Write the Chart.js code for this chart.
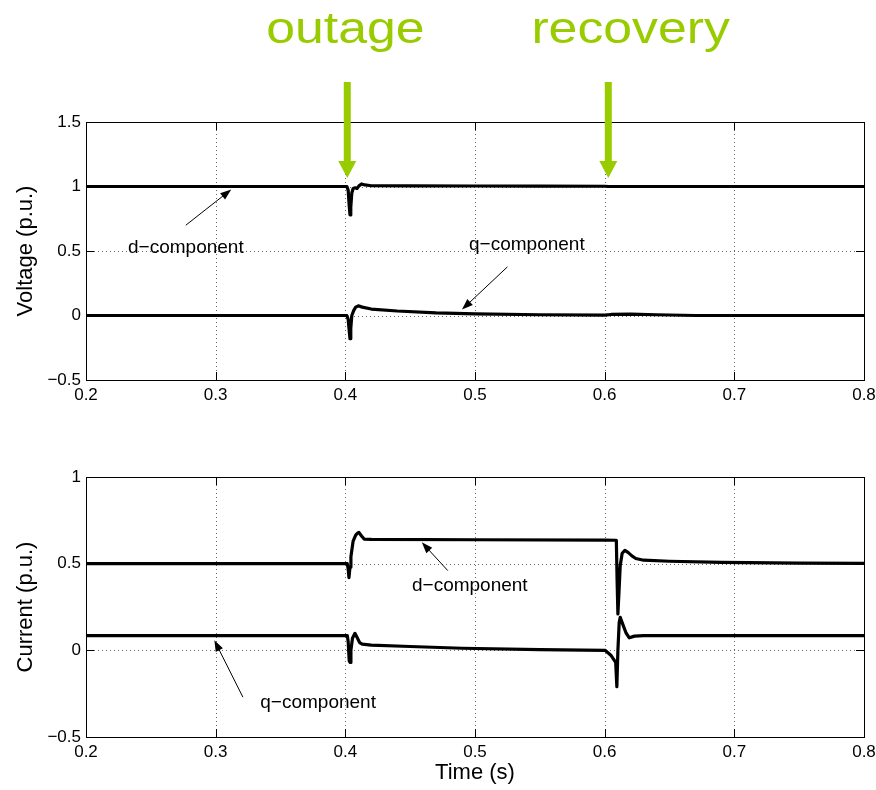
<!DOCTYPE html>
<html><head><meta charset="utf-8">
<script src="https://cdn.jsdelivr.net/npm/chart.js@4"></script>
<style>
html,body{margin:0;padding:0;background:#fff;}
#wrap{position:relative;width:876px;height:790px;overflow:hidden;}
canvas{position:absolute;left:0;}
#c1{top:0;} #c2{top:410px;}
</style></head><body>
<div id="wrap"><canvas id="c1" width="876" height="410"></canvas><canvas id="c2" width="876" height="380"></canvas></div>
<script>
// ---- data ----
const xTicks = [0.2, 0.8, 0.1];            // min, max, step
const voltTicks = [-0.5, 1.5, 0.5];
const currTicks = [-0.5, 1, 0.5];

const vdT = [0.2, 0.4012, 0.4022, 0.4030, 0.4036, 0.4042, 0.4050, 0.4060, 0.4075, 0.4090, 0.4105, 0.4125, 0.4150, 0.4200, 0.4500, 0.5000, 0.5500, 0.6000, 0.6030, 0.6100, 0.7000, 0.8];
const vdV = [1.0, 1.0, 0.97, 0.85, 0.78, 0.84, 0.95, 0.985, 0.99, 0.985, 1.005, 1.02, 1.012, 1.006, 1.005, 1.004, 1.003, 1.002, 1.0, 1.0, 1.0, 1.0];

const vqT = [0.2, 0.4012, 0.4022, 0.4030, 0.4036, 0.4042, 0.4050, 0.4065, 0.4080, 0.4100, 0.4130, 0.4200, 0.4400, 0.4700, 0.5000, 0.5500, 0.6000, 0.6050, 0.6200, 0.6400, 0.6700, 0.8];
const vqV = [0.0, 0.0, -0.03, -0.12, -0.18, -0.10, 0.0, 0.04, 0.065, 0.075, 0.065, 0.05, 0.035, 0.02, 0.012, 0.006, 0.003, 0.008, 0.01, 0.006, 0.0, 0.0];

const idT = [0.2, 0.4015, 0.4022, 0.4028, 0.4036, 0.4043, 0.4060, 0.4080, 0.4095, 0.4105, 0.4125, 0.4145, 0.4200, 0.5000, 0.6000, 0.6090, 0.6096, 0.6102, 0.6110, 0.6120, 0.6135, 0.6156, 0.6180, 0.6210, 0.6240, 0.6300, 0.6500, 0.6900, 0.7500, 0.8];
const idV = [0.5, 0.5, 0.47, 0.42, 0.48, 0.54, 0.63, 0.665, 0.677, 0.68, 0.66, 0.642, 0.64, 0.638, 0.636, 0.635, 0.40, 0.21, 0.33, 0.49, 0.56, 0.577, 0.565, 0.545, 0.53, 0.52, 0.514, 0.508, 0.503, 0.502];

const iqT = [0.2, 0.4015, 0.4022, 0.4030, 0.4036, 0.4043, 0.4055, 0.4074, 0.4090, 0.4110, 0.4130, 0.4200, 0.4500, 0.4900, 0.5500, 0.6003, 0.6050, 0.6085, 0.6094, 0.6102, 0.6112, 0.6120, 0.6140, 0.6165, 0.6190, 0.6230, 0.6300, 0.7000, 0.8];
const iqV = [0.085, 0.085, 0.05, -0.06, -0.07, 0.0, 0.07, 0.098, 0.075, 0.045, 0.036, 0.03, 0.022, 0.012, 0.004, 0.0, -0.03, -0.07, -0.21, 0.0, 0.16, 0.19, 0.15, 0.10, 0.072, 0.082, 0.085, 0.085, 0.085];

// annotations: [label, textX, textY, tailX, tailY, tipX, tipY]
const voltNotes = [
  ['d\u2212component', 0.277, 0.523, 0.277, 0.70, 0.312, 0.977],
  ['q\u2212component', 0.540, 0.546, 0.525, 0.377, 0.490, 0.046]
];
const currNotes = [
  ['d\u2212component', 0.496, 0.375, 0.479, 0.46, 0.459, 0.623],
  ['q\u2212component', 0.379, -0.300, 0.321, -0.27, 0.299, 0.058]
];
// event markers: [label, arrowX, labelX]
const events = [['outage', 0.4015, 0.4], ['recovery', 0.6028, 0.62]];

// ---- helpers ----
const FONT = '"Liberation Sans", Arial, Helvetica, sans-serif';
const pts = (t, v) => t.map((x, i) => ({x, y: v[i]}));
const fmt = v => { const r = Math.round(v * 100) / 100; return r < 0 ? '\u2212' + Math.abs(r) : String(r); };

function arrow(ctx, x1, y1, x2, y2, len, half) {
  const a = Math.atan2(y2 - y1, x2 - x1);
  ctx.beginPath(); ctx.moveTo(x1, y1);
  ctx.lineTo(x2 - Math.cos(a) * len * 0.8, y2 - Math.sin(a) * len * 0.8); ctx.stroke();
  ctx.beginPath(); ctx.moveTo(x2, y2);
  ctx.lineTo(x2 - Math.cos(a) * len + Math.sin(a) * half, y2 - Math.sin(a) * len - Math.cos(a) * half);
  ctx.lineTo(x2 - Math.cos(a) * len - Math.sin(a) * half, y2 - Math.sin(a) * len + Math.cos(a) * half);
  ctx.closePath(); ctx.fill();
}

const decor = {
  id: 'decor',
  beforeDatasetsDraw(chart, args, o) {
    const {ctx, chartArea: a, scales: {x, y}} = chart;
    ctx.save();
    ctx.strokeStyle = '#666'; ctx.lineWidth = 1; ctx.setLineDash([1, 3]);
    x.ticks.forEach(t => {
      const px = Math.round(x.getPixelForValue(t.value)) + 0.5;
      if (px < a.left + 2 || px > a.right - 2) return;
      ctx.beginPath(); ctx.moveTo(px, a.top); ctx.lineTo(px, a.bottom); ctx.stroke();
    });
    y.ticks.forEach(t => {
      const py = Math.round(y.getPixelForValue(t.value)) + 0.5;
      if (py < a.top + 2 || py > a.bottom - 2) return;
      ctx.beginPath(); ctx.moveTo(a.left, py); ctx.lineTo(a.right, py); ctx.stroke();
    });
    ctx.restore();
  },
  afterDatasetsDraw(chart, args, o) {
    const {ctx, chartArea: a, scales: {x, y}} = chart;
    ctx.save();
    ctx.strokeStyle = '#000'; ctx.lineWidth = 1;
    ctx.strokeRect(Math.round(a.left) + 0.5, Math.round(a.top) + 0.5, Math.round(a.right - a.left), Math.round(a.bottom - a.top));
    const tl = 8;
    x.ticks.forEach(t => {
      const px = Math.round(x.getPixelForValue(t.value)) + 0.5;
      ctx.beginPath(); ctx.moveTo(px, a.bottom); ctx.lineTo(px, a.bottom - tl);
      ctx.moveTo(px, a.top); ctx.lineTo(px, a.top + tl); ctx.stroke();
    });
    y.ticks.forEach(t => {
      const py = Math.round(y.getPixelForValue(t.value)) + 0.5;
      ctx.beginPath(); ctx.moveTo(a.left, py); ctx.lineTo(a.left + tl, py);
      ctx.moveTo(a.right, py); ctx.lineTo(a.right - tl, py); ctx.stroke();
    });
    // annotations
    ctx.fillStyle = '#000';
    ctx.font = '19px ' + FONT; ctx.textAlign = 'center'; ctx.textBaseline = 'middle';
    (o.notes || []).forEach(n => {
      ctx.fillText(n[0], x.getPixelForValue(n[1]), y.getPixelForValue(n[2]));
      arrow(ctx, x.getPixelForValue(n[3]), y.getPixelForValue(n[4]), x.getPixelForValue(n[5]), y.getPixelForValue(n[6]), 11, 4);
    });
    // axis titles
    ctx.font = '22px ' + FONT;
    ctx.save();
    ctx.translate(26, (a.top + a.bottom) / 2); ctx.rotate(-Math.PI / 2);
    ctx.fillText(o.yTitle, 0, 0);
    ctx.restore();
    if (o.xTitle) ctx.fillText(o.xTitle, (a.left + a.right) / 2, a.bottom + 36);
    // event markers
    (o.events || []).forEach(e => {
      const ax = x.getPixelForValue(e[1]);
      ctx.fillStyle = '#99CC00';
      ctx.fillRect(ax - 3.5, 82, 7, 82);
      ctx.beginPath(); ctx.moveTo(ax - 9, 161); ctx.lineTo(ax + 9, 161); ctx.lineTo(ax, 178); ctx.closePath(); ctx.fill();
      ctx.save();
      ctx.translate(x.getPixelForValue(e[2]), 43);
      ctx.scale(1.15, 1);
      ctx.font = '45px ' + FONT; ctx.textBaseline = 'alphabetic';
      ctx.fillText(e[0], 0, 0);
      ctx.restore();
    });
    ctx.restore();
  }
};

function makeChart(id, series, yt, padTop, xH, opts) {
  return new Chart(document.getElementById(id), {
    type: 'line',
    data: { datasets: series.map(s => ({ data: s, borderColor: '#000', borderWidth: 3.2, pointRadius: 0, tension: 0, borderJoinStyle: 'round', borderCapStyle: 'round' })) },
    options: {
      responsive: false, animation: false, events: [],
      layout: { padding: { left: 0, right: 12, top: padTop, bottom: 0 } },
      plugins: { legend: { display: false }, tooltip: { enabled: false }, decor: opts },
      scales: {
        x: { type: 'linear', min: xTicks[0], max: xTicks[1],
             ticks: { stepSize: xTicks[2], callback: v => Number(v).toFixed(1), color: '#000', font: { family: FONT, size: 17 }, padding: 5, maxRotation: 0 },
             grid: { display: false, drawTicks: false }, border: { display: false },
             afterFit: s => { s.height = xH; s.paddingLeft = 0; s.paddingRight = 0; } },
        y: { type: 'linear', min: yt[0], max: yt[1],
             ticks: { stepSize: yt[2], callback: fmt, color: '#000', font: { family: FONT, size: 17 }, padding: 5 },
             grid: { display: false, drawTicks: false }, border: { display: false },
             afterFit: s => { s.width = 86; s.paddingTop = 0; s.paddingBottom = 0; } }
      }
    },
    plugins: [decor]
  });
}

makeChart('c1', [pts(vdT, vdV), pts(vqT, vqV)], voltTicks, 122, 30,
  { notes: voltNotes, yTitle: 'Voltage (p.u.)', events: events });
makeChart('c2', [pts(idT, idV), pts(iqT, iqV)], currTicks, 67, 53,
  { notes: currNotes, yTitle: 'Current (p.u.)', xTitle: 'Time (s)' });
</script>
</body></html>
